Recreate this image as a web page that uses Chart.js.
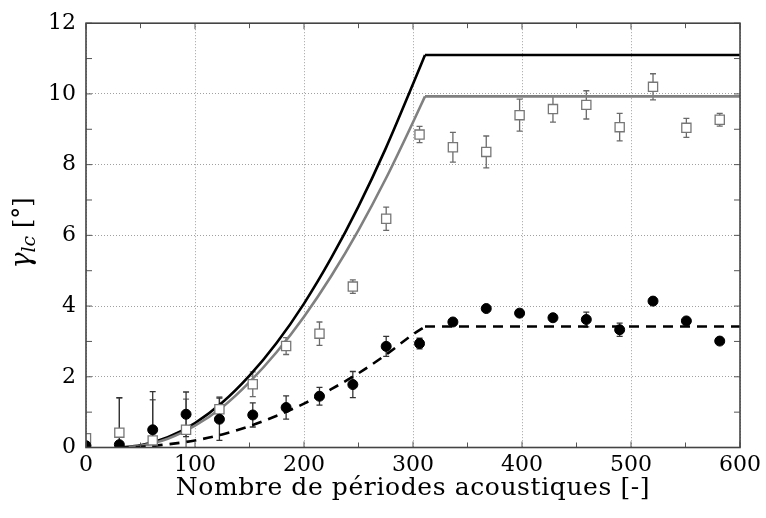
<!DOCTYPE html>
<html><head><meta charset="utf-8">
<script src="https://cdn.jsdelivr.net/npm/chart.js@4/dist/chart.umd.min.js"></script>
<style>html,body{margin:0;padding:0;background:#fff}#wrap{width:766px;height:518px}</style>
</head><body><div id="wrap"><canvas id="c" width="766" height="518"></canvas></div>
<script>
// ---- data ----
const xPositions   = [0, 30.6, 61.2, 91.8, 122.4, 153, 183.6, 214.2, 244.8, 275.4, 306, 336.6, 367.2, 397.8, 428.4, 459, 489.6, 520.2, 550.8, 581.4];
const squareValues = [0.26, 0.42, 0.20, 0.50, 1.08, 1.79, 2.87, 3.22, 4.55, 6.47, 8.85, 8.49, 8.36, 9.40, 9.57, 9.69, 9.06, 10.20, 9.04, 9.27];
const squareErrors = [0.05, 0.98, 1.15, 0.87, 0.35, 0.35, 0.24, 0.33, 0.19, 0.33, 0.23, 0.42, 0.45, 0.45, 0.37, 0.40, 0.39, 0.37, 0.27, 0.18];
const circleValues = [0.05, 0.08, 0.50, 0.94, 0.80, 0.92, 1.13, 1.45, 1.78, 2.86, 2.94, 3.55, 3.93, 3.80, 3.67, 3.62, 3.33, 4.14, 3.58, 3.01];
const circleErrors = [0.05, 1.33, 1.08, 0.63, 0.60, 0.34, 0.33, 0.25, 0.37, 0.28, 0.15, 0.05, 0.05, 0.05, 0.05, 0.21, 0.19, 0.05, 0.05, 0.05];
// model curves: rising part up to the kink, then a plateau
const curveX       = [30, 50, 75, 100, 125, 150, 175, 200, 225, 250, 275, 300, 311];
const blackCurve   = [0, 0.06, 0.29, 0.69, 1.27, 2.03, 2.96, 4.07, 5.36, 6.82, 8.46, 10.28, 11.1];
const grayCurve    = [0, 0.05, 0.25, 0.62, 1.14, 1.85, 2.70, 3.70, 4.85, 6.15, 7.60, 9.20, 9.93];
const dashedCurve  = [0, 0.02, 0.09, 0.20, 0.37, 0.60, 0.90, 1.24, 1.65, 2.10, 2.62, 3.20, 3.42];
const plateauX     = [311, 600];
const blackPlateau = [11.1, 11.1];
const grayPlateau  = [9.93, 9.93];
const dashedPlateau = [3.42, 3.42];
const xTickValues  = [0, 100, 200, 300, 400, 500, 600];
const yTickValues  = [0, 2, 4, 6, 8, 10, 12];
const xMinorTicks  = [50, 150, 250, 350, 450, 550];
const yMinorTicks  = [1, 3, 5, 7, 9, 11];
const xTitle = 'Nombre de périodes acoustiques [-]';

const FONT = '"DejaVu Serif", serif';
const pts = (xs, ys) => xs.map((x, i) => ({x: x, y: ys[i]}));

const errorBars = {
  id: 'errorBars',
  beforeDatasetsDraw(chart) {
    const ctx = chart.ctx, xs = chart.scales.x, ys = chart.scales.y, a = chart.chartArea;
    ctx.save();
    ctx.beginPath(); ctx.rect(a.left, a.top, a.right - a.left, a.bottom - a.top); ctx.clip();
    const draw = (vals, errs, color) => {
      ctx.strokeStyle = color; ctx.lineWidth = 1.3;
      xPositions.forEach((x, i) => {
        const px = xs.getPixelForValue(x);
        const t = ys.getPixelForValue(vals[i] + errs[i]);
        const b = ys.getPixelForValue(vals[i] - errs[i]);
        ctx.beginPath();
        ctx.moveTo(px, t); ctx.lineTo(px, b);
        ctx.moveTo(px - 3, t); ctx.lineTo(px + 3, t);
        ctx.moveTo(px - 3, b); ctx.lineTo(px + 3, b);
        ctx.stroke();
      });
    };
    draw(squareValues, squareErrors, '#6a6a6a');
    draw(circleValues, circleErrors, '#333');
    ctx.restore();
  }
};

const frame = {
  id: 'frame',
  afterDraw(chart) {
    const ctx = chart.ctx, xs = chart.scales.x, ys = chart.scales.y, a = chart.chartArea;
    ctx.save();
    ctx.strokeStyle = '#555'; ctx.lineWidth = 1;
    const tick = (len) => (v, axis) => {
      if (axis === 'x') {
        const p = xs.getPixelForValue(v);
        ctx.beginPath(); ctx.moveTo(p, a.bottom); ctx.lineTo(p, a.bottom - len);
        ctx.moveTo(p, a.top); ctx.lineTo(p, a.top + len); ctx.stroke();
      } else {
        const p = ys.getPixelForValue(v);
        ctx.beginPath(); ctx.moveTo(a.left, p); ctx.lineTo(a.left + len, p);
        ctx.moveTo(a.right, p); ctx.lineTo(a.right - len, p); ctx.stroke();
      }
    };
    xTickValues.forEach(v => tick(6)(v, 'x'));
    xMinorTicks.forEach(v => tick(5)(v, 'x'));
    yTickValues.forEach(v => tick(6)(v, 'y'));
    yMinorTicks.forEach(v => tick(6)(v, 'y'));
    ctx.strokeStyle = '#444'; ctx.lineWidth = 1.6;
    ctx.strokeRect(a.left, a.top, a.right - a.left, a.bottom - a.top);
    // x title
    ctx.fillStyle = '#000';
    ctx.font = '25px ' + FONT;
    try { ctx.letterSpacing = '0.6px'; } catch (e) {}
    ctx.textAlign = 'center'; ctx.textBaseline = 'alphabetic';
    ctx.fillText(xTitle, (a.left + a.right) / 2, 495);
    try { ctx.letterSpacing = '0px'; } catch (e) {}
    // y title
    ctx.translate(30, 233);
    ctx.rotate(-Math.PI / 2);
    const p1 = 'γ', p2 = 'lc', p3 = ' [°]';
    ctx.font = 'italic 27px ' + FONT; const w1 = ctx.measureText(p1).width;
    ctx.font = 'italic 19px ' + FONT; const w2 = ctx.measureText(p2).width;
    ctx.font = '24px ' + FONT; const w3 = ctx.measureText(p3).width;
    let x0 = -(w1 + w2 + w3) / 2;
    ctx.textAlign = 'left';
    ctx.font = 'italic 27px ' + FONT; ctx.fillText(p1, x0, 0); x0 += w1;
    ctx.font = 'italic 19px ' + FONT; ctx.fillText(p2, x0, 5); x0 += w2;
    ctx.font = '24px ' + FONT; ctx.fillText(p3, x0, 0);
    ctx.restore();
  }
};

const curve = (xs, ys, color, order, dash) => ({
  data: pts(xs, ys), order: order, borderColor: color, borderWidth: 2.6,
  borderDash: dash || [], pointRadius: 0, cubicInterpolationMode: 'monotone', fill: false
});

new Chart(document.getElementById('c'), {
  type: 'line',
  data: {
    datasets: [
      { label: 'circles', data: pts(xPositions, circleValues), showLine: false, order: 0,
        pointStyle: 'circle', pointRadius: 5, backgroundColor: '#000', borderColor: '#000', pointBorderWidth: 1 },
      { label: 'squares', data: pts(xPositions, squareValues), showLine: false, order: 1,
        pointStyle: 'rect', pointRadius: 6.5, backgroundColor: '#fff', borderColor: '#777', pointBorderWidth: 1.3 },
      curve(curveX, dashedCurve, '#000', 2, [10, 7]),
      curve(plateauX, dashedPlateau, '#000', 2, [10, 7]),
      curve(curveX, grayCurve, '#808080', 3),
      curve(plateauX, grayPlateau, '#808080', 3),
      curve(curveX, blackCurve, '#000', 4),
      curve(plateauX, blackPlateau, '#000', 4)
    ]
  },
  options: {
    responsive: false, animation: false, devicePixelRatio: 1,
    layout: { padding: { left: 0, right: 22, top: 17.5, bottom: 0 }, autoPadding: false },
    plugins: { legend: { display: false }, tooltip: { enabled: false } },
    scales: {
      x: { type: 'linear', min: 0, max: 600,
        afterFit(s) { s.height = 70.5; },
        afterBuildTicks(s) { s.ticks = xTickValues.map(v => ({value: v})); },
        ticks: { color: '#000', font: { family: FONT, size: 22 }, padding: 5, maxRotation: 0 },
        grid: { color: '#a0a0a0', lineWidth: 1, drawTicks: false },
        border: { display: false, dash: [1, 2] } },
      y: { min: 0, max: 12,
        afterFit(s) { s.width = 86; },
        afterBuildTicks(s) { s.ticks = yTickValues.map(v => ({value: v})); },
        ticks: { color: '#000', font: { family: FONT, size: 22 }, padding: 10 },
        grid: { color: '#a0a0a0', lineWidth: 1, drawTicks: false },
        border: { display: false, dash: [1, 2] } }
    }
  },
  plugins: [errorBars, frame]
});
</script></body></html>
